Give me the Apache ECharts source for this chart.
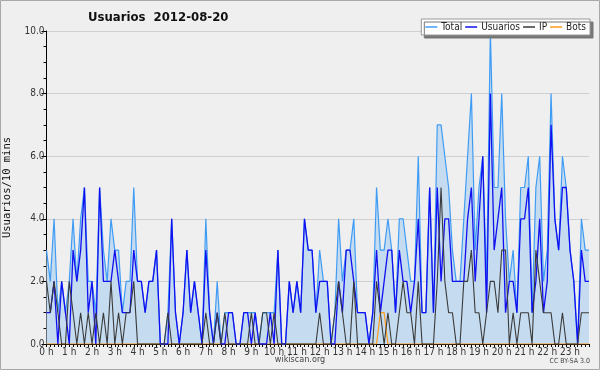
<!DOCTYPE html>
<html><head><meta charset="utf-8">
<script src="https://cdn.jsdelivr.net/npm/echarts@6/dist/echarts.min.js"></script>
<style>html,body{margin:0;padding:0;background:#efefef;}#c{width:600px;height:370px;}</style>
</head><body><div id="c"></div>
<script>
const hourLabels = ["0 h","1 h","2 h","3 h","4 h","5 h","6 h","7 h","8 h","9 h","10 h","11 h","12 h","13 h","14 h","15 h","16 h","17 h","18 h","19 h","20 h","21 h","22 h","23 h"];
const total = [
3,2,4,1,2,1, 2,4,2,4,5,2, 2,1,5,3,2,4, 3,3,1,2,2,5,
2,2,1,2,2,3, 0,0,1,4,1,0, 1,3,1,2,1,0, 4,1,0,2,0,1,
1,1,0,0,1,1, 1,1,0,1,1,1, 1,3,0,0,2,1, 2,1,4,3,3,1,
3,2,2,0,1,4, 2,3,3,4,1,1, 1,0,1,5,3,3, 4,3,1,4,4,3,
2,2,6,1,1,5, 1,7,7,6,5,3, 2,2,4,6,8,3, 5,6,2,10,5,5,
8,4,2,3,1,5, 5,6,1,5,6,2, 3,8,4,3,6,5, 3,2,0,4,3,3];
const usuarios = [
1,1,2,0,2,1, 0,3,2,3,5,1, 2,0,5,2,2,2, 3,2,1,1,1,3,
2,2,1,2,2,3, 0,0,0,4,1,0, 1,3,1,2,1,0, 3,1,0,1,0,0,
1,1,0,0,1,1, 0,1,0,0,0,1, 0,3,0,0,2,1, 2,1,4,3,3,1,
2,2,2,0,0,2, 1,3,3,2,1,1, 1,0,1,3,1,2, 3,3,1,3,2,2,
1,2,4,1,1,5, 1,5,2,4,4,2, 2,2,2,4,5,2, 4,6,1,8,3,4,
5,1,2,2,1,4, 4,5,1,2,4,1, 2,7,4,3,5,5, 3,2,0,3,2,2];
const ip = [
2,1,2,1,0,0, 2,1,0,1,0,1, 0,1,0,1,0,2, 0,1,0,1,1,2,
0,0,0,0,0,0, 0,0,1,0,0,0, 0,0,0,0,0,0, 1,0,0,1,0,1,
0,0,0,0,0,0, 1,0,0,1,1,0, 1,0,0,0,0,0, 0,0,0,0,0,0,
1,0,0,0,1,2, 1,0,0,2,0,0, 0,0,0,2,1,0, 1,0,0,1,2,1,
1,0,2,0,0,0, 0,2,5,2,1,1, 0,0,2,2,3,1, 1,0,1,2,2,1,
3,3,0,1,0,1, 1,1,0,3,2,1, 1,1,0,0,1,0, 0,0,0,1,1,1];
const bots = [
0,0,0,0,0,0, 0,0,0,0,0,0, 0,0,0,0,0,0, 0,0,0,0,0,0,
0,0,0,0,0,0, 0,0,0,0,0,0, 0,0,0,0,0,0, 0,0,0,0,0,0,
0,0,0,0,0,0, 0,0,0,0,0,0, 0,0,0,0,0,0, 0,0,0,0,0,0,
0,0,0,0,0,0, 0,0,0,0,0,0, 0,0,0,0,1,1, 0,0,0,0,0,0,
0,0,0,0,0,0, 0,0,0,0,0,0, 0,0,0,0,0,0, 0,0,0,0,0,0,
0,0,0,0,0,0, 0,0,0,0,0,0, 0,0,0,0,0,0, 0,0,0,0,0,0];
const seriesNames = ["Total","Usuarios","IP","Bots"];
const titleText = "Usuarios  2012-08-20";
const yName = "Usuarios/10 mins";

const narrow = '"Liberation Sans Narrow", "DejaVu Sans Condensed", sans-serif';
const categories = total.map((_, i) => String(i));
const chart = echarts.init(document.getElementById('c'), null, {renderer: 'canvas'});
const lineBase = {type: 'line', showSymbol: false, symbol: 'none', animation: false};
chart.setOption({
  backgroundColor: '#efefef',
  animation: false,
  title: {text: titleText, left: 83, top: 6,
    textStyle: {fontFamily: narrow, fontWeight: 'bold', fontSize: 13, color: '#111'}},
  legend: {data: seriesNames, right: 10, top: 19, padding: [3, 4, 3, 4], itemGap: 3,
    icon: 'rect', itemWidth: 12, itemHeight: 1.5,
    backgroundColor: '#fff', borderColor: '#999', borderWidth: 1,
    shadowColor: '#777', shadowOffsetX: 3, shadowOffsetY: 3, shadowBlur: 0,
    textStyle: {fontFamily: narrow, fontSize: 10, color: '#222', padding: [0, 0, 0, -1]}},
  grid: {left: 46.5, right: 11, top: 31, bottom: 26, containLabel: false, outerBoundsMode: 'none'},
  xAxis: {type: 'category', data: categories, boundaryGap: false,
    axisLine: {lineStyle: {color: '#000', width: 1}},
    axisTick: {show: true, interval: 0, length: 3, lineStyle: {color: '#000'}},
    axisLabel: {interval: (idx) => idx % 6 === 0, formatter: (v, idx) => hourLabels[idx / 6],
      fontFamily: narrow, fontSize: 10, color: '#333', margin: 3},
    splitLine: {show: false}},
  yAxis: {type: 'value', min: 0, max: 10, interval: 2,
    name: yName, nameLocation: 'middle', nameRotate: 90, nameGap: 34,
    nameTextStyle: {fontFamily: 'DejaVu Sans Mono', fontSize: 10.5, color: '#111'},
    axisLine: {show: true, lineStyle: {color: '#000', width: 1}},
    axisTick: {show: true, length: 5, lineStyle: {color: '#000'}},
    minorTick: {show: true, splitNumber: 4, length: 3, lineStyle: {color: '#000'}},
    axisLabel: {formatter: (v) => v.toFixed(1), fontFamily: narrow, fontSize: 10, color: '#333', margin: 2},
    splitLine: {show: true, lineStyle: {color: '#cfcfcf', width: 1}}},
  series: [
    Object.assign({}, lineBase, {name: 'Total', data: total, z: 1,
      lineStyle: {color: '#3f9cf5', width: 1.2}, itemStyle: {color: '#3f9cf5'},
      areaStyle: {color: '#c5dbef', opacity: 1}}),
    Object.assign({}, lineBase, {name: 'Bots', data: bots, z: 2,
      lineStyle: {color: '#ff9a1a', width: 1.2}, itemStyle: {color: '#ff9a1a'}}),
    Object.assign({}, lineBase, {name: 'Usuarios', data: usuarios, z: 3,
      lineStyle: {color: '#1010f0', width: 1.3}, itemStyle: {color: '#1010f0'}}),
    Object.assign({}, lineBase, {name: 'IP', data: ip, z: 4,
      lineStyle: {color: '#3a3a3a', width: 1.1}, itemStyle: {color: '#3a3a3a'}})
  ],
  graphic: [
    {type: 'rect', shape: {x: 0.5, y: 0.5, width: 599, height: 369}, style: {fill: null, stroke: '#a8a8a8', lineWidth: 1}, silent: true},
    {type: 'text', left: 'center', top: 355, style: {text: 'wikiscan.org', font: '9px "DejaVu Sans Condensed"', fill: '#444'}},
    {type: 'text', right: 10, top: 358, style: {text: 'CC BY-SA 3.0', font: '7px "DejaVu Sans Condensed"', fill: '#444'}}
  ]
});
</script></body></html>
